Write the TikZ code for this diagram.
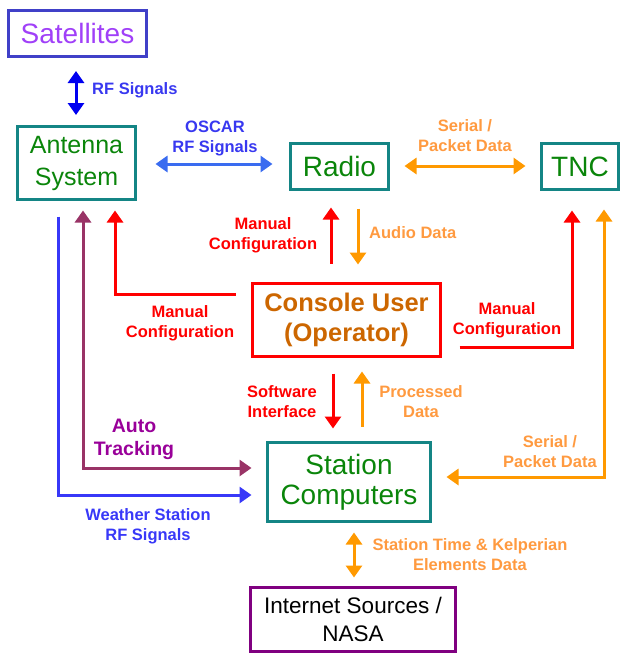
\documentclass[tikz,border=0pt]{standalone}
\usepackage{fontspec}
\setmainfont{Liberation Sans}
\usetikzlibrary{arrows.meta}
\definecolor{boxteal}{HTML}{148585}
\definecolor{boxgreen}{HTML}{0A850A}
\definecolor{satblue}{HTML}{4040C8}
\definecolor{satviolet}{HTML}{A040F8}
\definecolor{sigblue}{HTML}{0000F0}
\definecolor{lblblue}{HTML}{3838F0}
\definecolor{oscarblue}{HTML}{3A6CF0}
\definecolor{wxblue}{HTML}{3838F8}
\definecolor{arrorange}{HTML}{FF9900}
\definecolor{lblorange}{HTML}{FF9A40}
\definecolor{userorange}{HTML}{CC6600}
\definecolor{cfgred}{HTML}{FF0000}
\definecolor{trackplum}{HTML}{993366}
\definecolor{trackpurple}{HTML}{990099}
\definecolor{netpurple}{HTML}{800080}

\begin{document}
\begin{tikzpicture}[x=1pt,y=-1pt,
    box/.style={draw=boxteal,line width=3pt,inner sep=0pt,align=center,text=boxgreen,font=\fontsize{28}{30}\selectfont},
    lbl/.style={align=center,inner sep=0pt,font=\bfseries\fontsize{16.5}{20}\selectfont},
    flow/.style={line width=3pt,-{Triangle[width=16pt,length=12pt]}},
    dflow/.style={line width=3pt,{Triangle[width=16pt,length=12pt]}-{Triangle[width=16pt,length=12pt]}}]
	\useasboundingbox (0,0) rectangle (621,654);
	% boxes
	\node[box,draw=satblue,text=satviolet,minimum width=138pt,minimum height=46pt] (sat) at (77.5,33.5) {Satellites};
	\node[box,font=\fontsize{25}{32}\selectfont,minimum width=118pt,minimum height=73pt] (ant) at (76.5,163) {Antenna\\System};
	\node[box,minimum width=98pt,minimum height=46pt] (radio) at (339.5,166.5) {Radio};
	\node[box,minimum width=77pt,minimum height=46pt] (tnc) at (580,166.5) {TNC};
	\node[box,draw=cfgred,text=userorange,font=\bfseries\fontsize{25.5}{30}\selectfont,minimum width=188pt,minimum height=73pt] (user) at (346.5,320) {Console User\\(Operator)};
	\node[box,minimum width=163pt,minimum height=79pt] (station) at (349,482) {Station\\Computers};
	\node[box,draw=netpurple,text=black,font=\fontsize{22.5}{28}\selectfont,minimum width=205pt,minimum height=64pt] (inet) at (353,619.5) {Internet Sources /\\NASA};
	% labels
	\node[lbl,text=lblblue,anchor=west] (rflbl) at (92,90) {RF Signals};
	\node[lbl,text=lblblue] (oscarlbl) at (215,138) {OSCAR\\RF Signals};
	\node[lbl,text=lblorange] (seriallbl) at (465,136) {Serial /\\Packet Data};
	\node[lbl,text=cfgred] (cfgradio) at (263,235) {Manual\\Configuration};
	\node[lbl,text=lblorange,anchor=west] (audiolbl) at (369,233) {Audio Data};
	\node[lbl,text=cfgred] (cfgant) at (180,323) {Manual\\Configuration};
	\node[lbl,text=cfgred] (cfgtnc) at (507,320) {Manual\\Configuration};
	\node[lbl,text=trackpurple,font=\bfseries\fontsize{19.5}{23}\selectfont] (tracklbl) at (134,439.5) {Auto\\Tracking};
	\node[lbl,text=wxblue] (wxlbl) at (148,526) {Weather Station\\RF Signals};
	\node[lbl,text=lblorange] (packetlbl) at (550,452) {Serial /\\Packet Data};
	\node[lbl,text=cfgred] (swlbl) at (282,402) {Software\\Interface};
	\node[lbl,text=lblorange] (proclbl) at (421,402) {Processed\\Data};
	\node[lbl,text=lblorange] (timelbl) at (470,555) {Station Time \& Kelperian\\Elements Data};
	% connectors
	\draw[dflow,sigblue,shorten <=13pt,shorten >=10pt] (sat.south -| 76,0) -- (ant.north -| 76,0);
	\draw[dflow,oscarblue,shorten <=18.5pt,shorten >=16.5pt] (ant.east |- 0,164) -- (radio.west |- 0,164);
	\draw[dflow,arrorange,shorten <=14.5pt,shorten >=14.5pt] (radio.east |- 0,166) -- (tnc.west |- 0,166);
	\draw[flow,cfgred,shorten <=18.5pt,shorten >=16.5pt] (user.north -| 331,0) -- (radio.south -| 331,0);
	\draw[flow,arrorange,shorten <=17.5pt,shorten >=17.5pt] (radio.south -| 358,0) -- (user.north -| 358,0);
	\draw[flow,cfgred,shorten <=15.5pt,shorten >=9.5pt] (user.west |- 0,294) -| (ant.south -| 115,0);
	\draw[flow,cfgred,shorten <=17.5pt,shorten >=19.5pt] (user.east |- 0,347) -| (tnc.south -| 572,0);
	\draw[dflow,trackplum,shorten <=9.5pt,shorten >=14.5pt] (ant.south -| 83,0) |- (station.west |- 0,468);
	\draw[flow,wxblue,shorten <=15.5pt,shorten >=14.5pt] (ant.south -| 58,0) |- (station.west |- 0,495);
	\draw[dflow,arrorange,shorten <=18.5pt,shorten >=14.5pt] (tnc.south -| 604,0) |- (station.east |- 0,477);
	\draw[flow,cfgred,shorten <=15.5pt,shorten >=12.5pt] (user.south -| 333,0) -- (station.north -| 333,0);
	\draw[flow,arrorange,shorten <=14.5pt,shorten >=13.5pt] (station.north -| 362,0) -- (user.south -| 362,0);
	\draw[dflow,arrorange,shorten <=9.5pt,shorten >=8.5pt] (station.south -| 354,0) -- (inet.north -| 354,0);
\end{tikzpicture}
\end{document}
